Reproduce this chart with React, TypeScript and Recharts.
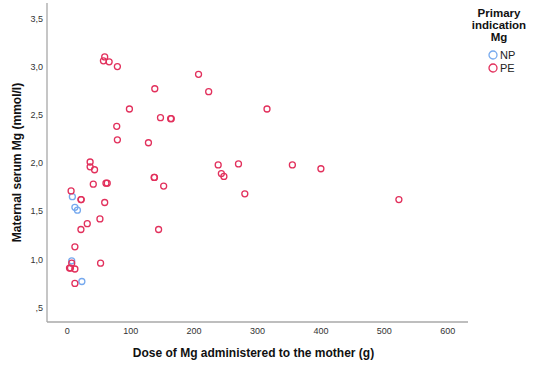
import React from 'react';
import { ScatterChart, Scatter, XAxis, YAxis } from 'recharts';

// Dose of Mg administered (g) and maternal serum Mg (mmol/l), by primary indication
const npDose = [8, 12, 16, 7, 23];
const npSerum = [1.65, 1.54, 1.51, 0.985, 0.77];

const peDose = [
  59, 57, 66, 79, 207, 138, 223, 98, 315, 147, 163, 164, 78, 79, 128, 36, 238, 270,
  355, 400, 36, 43, 243, 247, 137, 137.5, 280, 523, 152, 6, 41, 61, 63, 21.5, 22, 59,
  51.5, 31.5, 21.5, 144, 12, 7, 3.5, 5, 12, 52.5, 12,
];
const peSerum = [
  3.10, 3.06, 3.05, 3.00, 2.92, 2.77, 2.74, 2.56, 2.56, 2.47, 2.46, 2.46, 2.38, 2.24,
  2.21, 2.01, 1.98, 1.99, 1.98, 1.94, 1.96, 1.93, 1.89, 1.86, 1.85, 1.85, 1.68, 1.62,
  1.76, 1.71, 1.78, 1.79, 1.79, 1.62, 1.62, 1.59, 1.42, 1.37, 1.31, 1.31, 1.13, 0.96,
  0.91, 0.91, 0.90, 0.96, 0.75,
];

const xTicks = [0, 100, 200, 300, 400, 500, 600];
const yTicks = [0.5, 1.0, 1.5, 2.0, 2.5, 3.0, 3.5];

const legendTitle = ['Primary', 'indication', 'Mg'];
const groups = ['NP', 'PE'];

const NP_COLOR = '#76a9ee';
const PE_COLOR = '#e2305c';
const groupColors: Record<string, string> = { NP: NP_COLOR, PE: PE_COLOR };
const FONT = '"Liberation Sans", Arial, sans-serif';

const npData = npDose.map((d, i) => ({ dose: d, serum: npSerum[i] }));
const peData = peDose.map((d, i) => ({ dose: d, serum: peSerum[i] }));

const fmtY = (v: number) => v.toFixed(1).replace('.', ',').replace(/^0/, '');

const ring = (color: string) => (props: any) => (
  <circle cx={props.cx} cy={props.cy} r={3} fill="none" stroke={color} strokeWidth={1.3} />
);

const YLabel = (props: any) => {
  const vb = props.viewBox || {};
  const cx = 17;
  const cy = vb.y + vb.height / 2;
  return (
    <text
      x={cx}
      y={cy}
      transform={`rotate(-90, ${cx}, ${cy})`}
      textAnchor="middle"
      dominantBaseline="central"
      fontFamily={FONT}
      fontWeight="bold"
      fontSize={12}
      fill="#111"
    >
      Maternal serum Mg (mmol/l)
    </text>
  );
};

const XLabel = (props: any) => {
  const vb = props.viewBox || {};
  return (
    <text
      x={vb.x + vb.width / 2 - 4}
      y={vb.y + 31}
      textAnchor="middle"
      dominantBaseline="central"
      fontFamily={FONT}
      fontWeight="bold"
      fontSize={12}
      fill="#111"
    >
      Dose of Mg administered to the mother (g)
    </text>
  );
};

// Legend block in the top-right corner
const LegendBox = () => (
  <div
    style={{
      position: 'absolute',
      left: 465,
      top: 7,
      width: 68,
      fontFamily: FONT,
      textAlign: 'center',
    }}
  >
    {legendTitle.map((t) => (
      <div key={t} style={{ fontWeight: 'bold', fontSize: 11.5, lineHeight: '12px', color: '#111' }}>
        {t}
      </div>
    ))}
    <div style={{ marginTop: 5 }}>
      {groups.map((g) => (
        <div key={g} style={{ display: 'flex', alignItems: 'center', height: 13, paddingLeft: 23 }}>
          <svg width={10} height={10} style={{ marginRight: 2 }}>
            <circle cx={5} cy={5} r={4} fill="none" stroke={groupColors[g]} strokeWidth={1.3} />
          </svg>
          <span style={{ fontSize: 11, color: '#222' }}>{g}</span>
        </div>
      ))}
    </div>
  </div>
);

export default function App() {
  return (
    <div style={{ position: 'relative', width: 533, height: 369, background: '#fff' }}>
      <style>{`body{margin:0}`}</style>
      <ScatterChart width={533} height={369} margin={{ top: 3, right: 65, bottom: 0, left: 0 }}>
        <XAxis
          type="number"
          dataKey="dose"
          domain={[-32, 632]}
          allowDataOverflow
          ticks={xTicks}
          tickLine={false}
          tickSize={4}
          tickMargin={2}
          height={47}
          stroke="#a8a8a8"
          strokeWidth={1.3}
          tick={{ fontSize: 9, fill: '#333', fontFamily: FONT }}
          label={<XLabel />}
        />
        <YAxis
          type="number"
          dataKey="serum"
          domain={[0.35, 3.66]}
          allowDataOverflow
          ticks={yTicks}
          tickFormatter={fmtY}
          tickLine={false}
          tickSize={2}
          tickMargin={2}
          width={47}
          stroke="#a8a8a8"
          strokeWidth={1.3}
          tick={{ fontSize: 9, fill: '#333', fontFamily: FONT }}
          label={<YLabel />}
        />
        <Scatter name="NP" data={npData} fill={NP_COLOR} shape={ring(NP_COLOR)} isAnimationActive={false} />
        <Scatter name="PE" data={peData} fill={PE_COLOR} shape={ring(PE_COLOR)} isAnimationActive={false} />
      </ScatterChart>
      <LegendBox />
    </div>
  );
}
